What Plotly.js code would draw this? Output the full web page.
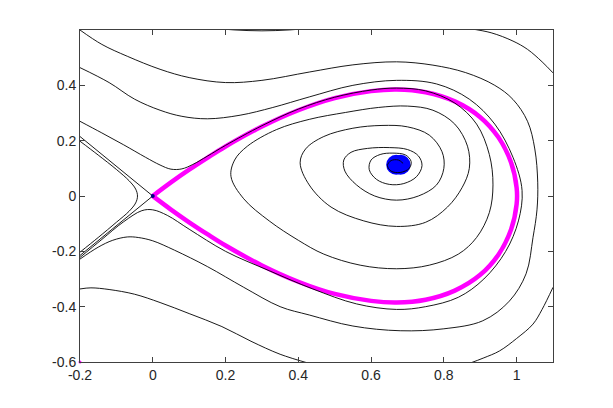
<!DOCTYPE html>
<html>
<head>
<meta charset="utf-8">
<script src="https://cdn.plot.ly/plotly-3.0.1.min.js"></script>
<style>html,body{margin:0;padding:0;background:#fff;}#chart{width:613px;height:408px;}</style>
</head>
<body>
<div id="chart"></div>
<script>
// Axis ticks
var xTickVals = [-0.2, 0, 0.2, 0.4, 0.6, 0.8, 1];
var xTickText = ["-0.2", "0", "0.2", "0.4", "0.6", "0.8", "1"];
var yTickVals = [-0.6, -0.4, -0.2, 0, 0.2, 0.4];
var yTickText = ["-0.6", "-0.4", "-0.2", "0", "0.2", "0.4"];

// Homoclinic loop (magenta): upper branch out from the saddle, lower branch back in
var loopX = [0, 0.05, 0.1, 0.15, 0.2, 0.3, 0.4, 0.5, 0.6, 0.67, 0.75, 0.83, 0.9, 0.95, 0.985, 1.0, 1.0, 0.985, 0.95, 0.9, 0.83, 0.75, 0.67, 0.6, 0.5, 0.4, 0.3, 0.2, 0.15, 0.1, 0.05, 0.0005];
var loopY = [0, 0.049, 0.095, 0.138, 0.179, 0.251, 0.31, 0.354, 0.379, 0.385, 0.375, 0.342, 0.285, 0.212, 0.12, 0.03, -0.03, -0.12, -0.212, -0.285, -0.342, -0.375, -0.385, -0.379, -0.354, -0.31, -0.251, -0.179, -0.138, -0.095, -0.049, -0.0005];

// Outer trajectory A
var aX = [-0.2, -0.14, -0.07, 0.02, 0.1, 0.2, 0.3, 0.43, 0.55, 0.67, 0.77, 0.86, 0.94, 0.99, 1.03, 1.05, 1.058, 1.056, 1.045, 1.026, 0.98, 0.907, 0.8, 0.68, 0.55, 0.43, 0.35, 0.25, 0.15, 0.06, 0.0, -0.04, -0.07, -0.11, -0.15, -0.2];
var aY = [0.6, 0.548, 0.505, 0.458, 0.428, 0.41, 0.418, 0.448, 0.474, 0.485, 0.473, 0.446, 0.4, 0.349, 0.27, 0.17, 0.05, -0.05, -0.15, -0.281, -0.38, -0.451, -0.48, -0.487, -0.47, -0.43, -0.4, -0.33, -0.255, -0.196, -0.162, -0.15, -0.148, -0.16, -0.185, -0.228];

// Trajectory B (just outside the loop)
var bX = [-0.2, -0.12, -0.05, 0.02, 0.08, 0.15, 0.24, 0.33, 0.43, 0.55, 0.67, 0.78, 0.87, 0.94, 0.99, 1.015, 1.005, 0.97, 0.91, 0.84, 0.75, 0.67, 0.56, 0.44, 0.32, 0.2, 0.1, 0.04, 0.0, -0.03, -0.08, -0.14, -0.2];
var bY = [0.464, 0.41, 0.35, 0.31, 0.288, 0.279, 0.292, 0.32, 0.358, 0.4, 0.418, 0.405, 0.35, 0.26, 0.14, 0.02, -0.09, -0.2, -0.3, -0.366, -0.4, -0.41, -0.39, -0.336, -0.27, -0.2, -0.12, -0.07, -0.05, -0.053, -0.093, -0.157, -0.222];

// Spiral trajectory C (enters from upper left, winds into the focus)
var cX = [-0.2, -0.14, -0.08, -0.02, 0.02, 0.05, 0.08, 0.11, 0.15, 0.2, 0.3, 0.4, 0.5, 0.6, 0.67, 0.75, 0.83, 0.89, 0.925, 0.935, 0.925, 0.89, 0.84, 0.76, 0.67, 0.57, 0.47, 0.4, 0.32, 0.25, 0.215, 0.225, 0.26, 0.34, 0.43, 0.53, 0.62, 0.7, 0.77, 0.83, 0.865, 0.87, 0.85, 0.81, 0.75, 0.67, 0.58, 0.49, 0.43, 0.405, 0.42, 0.47, 0.55, 0.63, 0.7, 0.76, 0.795, 0.8, 0.78, 0.73, 0.67, 0.61, 0.56, 0.528, 0.525, 0.545, 0.59, 0.65, 0.7, 0.73, 0.74, 0.725, 0.69, 0.65, 0.615, 0.595, 0.6, 0.625, 0.66, 0.695, 0.71, 0.705, 0.68, 0.655, 0.645, 0.655, 0.675, 0.688];
var cY = [0.27, 0.228, 0.185, 0.14, 0.112, 0.097, 0.098, 0.114, 0.144, 0.183, 0.254, 0.314, 0.357, 0.383, 0.39, 0.38, 0.336, 0.26, 0.15, 0.04, -0.06, -0.15, -0.21, -0.25, -0.263, -0.25, -0.21, -0.16, -0.09, -0.01, 0.07, 0.13, 0.18, 0.24, 0.277, 0.302, 0.32, 0.325, 0.31, 0.26, 0.18, 0.1, 0.03, -0.04, -0.095, -0.11, -0.09, -0.04, 0.04, 0.12, 0.17, 0.215, 0.245, 0.255, 0.25, 0.22, 0.16, 0.1, 0.04, 0.0, -0.015, 0.0, 0.04, 0.09, 0.13, 0.158, 0.172, 0.175, 0.168, 0.145, 0.11, 0.07, 0.045, 0.042, 0.06, 0.095, 0.13, 0.15, 0.155, 0.148, 0.125, 0.1, 0.085, 0.09, 0.11, 0.128, 0.13, 0.118];

// Left hyperbola-like trajectory D
var dX = [-0.2, -0.15, -0.1, -0.065, -0.047, -0.042, -0.047, -0.065, -0.1, -0.15, -0.2];
var dY = [0.198, 0.148, 0.096, 0.055, 0.025, 0.0, -0.025, -0.055, -0.095, -0.15, -0.203];

// Saddle manifolds on the left
var stableX = [-0.2, 0];
var stableY = [0.215, 0];
var unstableX = [0, -0.2];
var unstableY = [0, -0.215];

// Curve grazing the top edge
var eX = [0.05, 0.15, 0.3, 0.45, 0.55];
var eY = [0.626, 0.608, 0.597, 0.608, 0.626];

// Top-right corner curve
var fX = [0.87, 0.93, 0.99, 1.03, 1.07, 1.1];
var fY = [0.605, 0.59, 0.56, 0.53, 0.485, 0.445];

// Bottom-right corner curve
var gX = [1.1, 1.07, 1.045, 1.0, 0.953, 0.91, 0.87];
var gY = [-0.33, -0.41, -0.463, -0.515, -0.56, -0.585, -0.605];

// Bottom-left curve
var hX = [-0.2, -0.17, -0.12, -0.05, 0.02, 0.1, 0.19, 0.27, 0.35, 0.43];
var hY = [-0.336, -0.332, -0.338, -0.355, -0.385, -0.425, -0.472, -0.525, -0.572, -0.605];

// Focus (blue) and saddle point
var focusX = [0.669, 0.681];
var focusY = [0.113, 0.113];
var saddleX = [0];
var saddleY = [0];
var cornerX = [-0.2];
var cornerY = [-0.6];

function blackLine(x, y, shape) {
  return {x: x, y: y, type: 'scatter', mode: 'lines', hoverinfo: 'skip',
          line: {color: '#000000', width: 0.9, shape: shape || 'spline', smoothing: 1}};
}

var traces = [
  {x: loopX, y: loopY, type: 'scatter', mode: 'lines', line: {color: '#ff00ff', width: 4.5, shape: 'spline', smoothing: 1}},
  {x: focusX, y: focusY, type: 'scatter', mode: 'markers', marker: {color: '#0000ff', size: 20, line: {width: 0}}},
  blackLine(aX, aY),
  blackLine(bX, bY),
  blackLine(cX, cY),
  blackLine(dX, dY),
  blackLine(stableX, stableY, 'linear'),
  blackLine(unstableX, unstableY, 'linear'),
  blackLine(eX, eY),
  blackLine(fX, fY),
  blackLine(gX, gY),
  blackLine(hX, hY),
  {x: saddleX, y: saddleY, type: 'scatter', mode: 'markers', marker: {color: '#000080', size: 4}},
  {x: cornerX, y: cornerY, type: 'scatter', mode: 'markers', cliponaxis: false, marker: {color: '#ff00ff', size: 3}}
];

var axisCommon = {
  showgrid: false, zeroline: false, showline: true, linecolor: '#404040', linewidth: 1,
  mirror: 'ticks', ticks: 'inside', ticklen: 5, tickcolor: '#404040', tickwidth: 1,
  tickfont: {family: 'Liberation Sans, Arial, sans-serif', size: 14, color: '#262626'}
};

var layout = {
  width: 613, height: 408,
  margin: {l: 80, r: 60, t: 30, b: 46},
  paper_bgcolor: '#ffffff', plot_bgcolor: '#ffffff',
  showlegend: false,
  xaxis: Object.assign({}, axisCommon, {range: [-0.2, 1.1], tickmode: 'array', tickvals: xTickVals, ticktext: xTickText}),
  yaxis: Object.assign({}, axisCommon, {range: [-0.6, 0.6], tickmode: 'array', tickvals: yTickVals, ticktext: yTickText})
};

Plotly.newPlot('chart', traces, layout, {staticPlot: true, displayModeBar: false});
</script>
</body>
</html>
